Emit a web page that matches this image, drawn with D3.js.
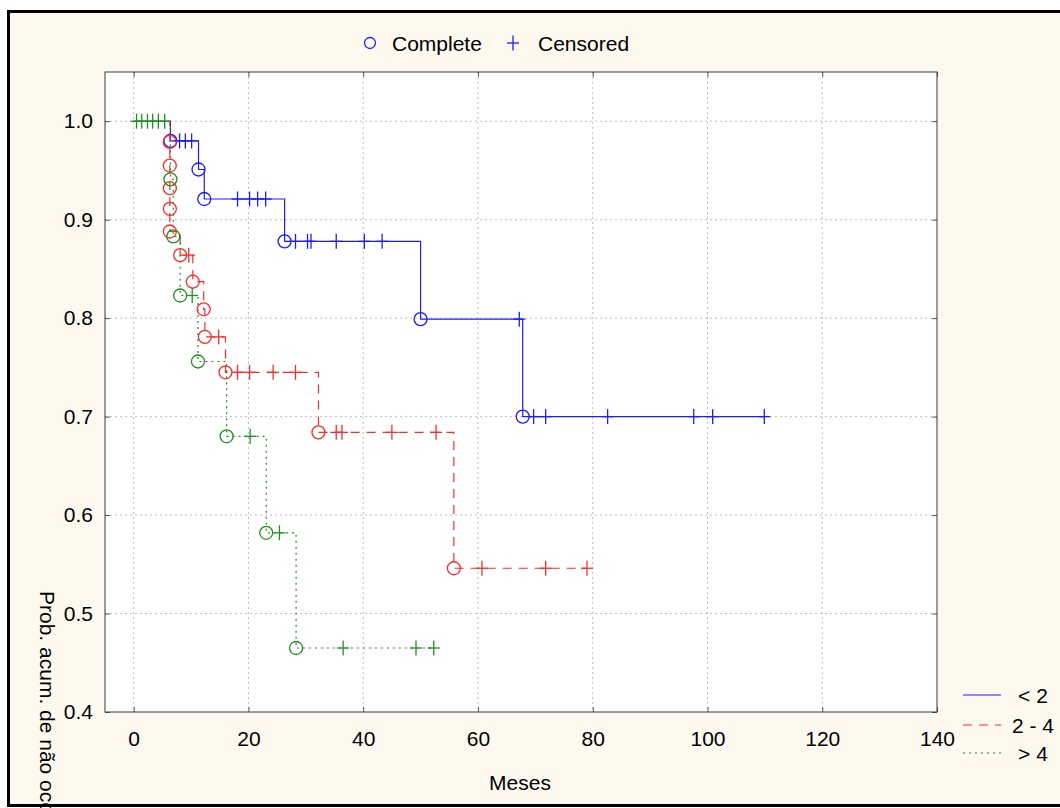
<!DOCTYPE html>
<html><head><meta charset="utf-8">
<script src="https://cdn.jsdelivr.net/npm/d3@7"></script>
<style>
html,body{margin:0;padding:0;background:#fff;}
text{font-family:"Liberation Sans",Arial,sans-serif;}
</style></head>
<body>
<svg id="c" width="1060" height="808"></svg>
<script>
// ---- data ----
const xTicks = [0, 20, 40, 60, 80, 100, 120, 140];
const yTicks = [0.4, 0.5, 0.6, 0.7, 0.8, 0.9, 1.0];
const groupNames = ["< 2", "2 - 4", "> 4"];

const blueEventT = [6.4, 11.3, 12.3, 26.3, 50.0, 67.8];
const blueEventS = [0.980, 0.951, 0.921, 0.878, 0.799, 0.700];
const blueCensT = [8.0, 9.0, 10.1, 18.1, 20.2, 21.6, 23.0, 28.2, 30.3, 30.9, 35.3, 40.2, 43.3, 67.2, 69.7, 71.8, 82.6, 97.6, 100.9, 109.9];

const redEventT = [6.3, 6.3, 6.3, 6.3, 6.3, 8.1, 10.3, 12.2, 12.4, 16.0, 32.2, 55.8];
const redEventS = [0.979, 0.955, 0.932, 0.911, 0.888, 0.864, 0.837, 0.809, 0.781, 0.745, 0.684, 0.546];
const redCensT = [9.6, 14.8, 18.1, 20.2, 24.3, 28.2, 35.3, 36.3, 45.0, 52.7, 60.7, 71.8, 79.0];

const greenEventT = [6.4, 6.9, 8.1, 11.2, 16.2, 23.1, 28.3];
const greenEventS = [0.941, 0.883, 0.823, 0.756, 0.680, 0.582, 0.465];
const greenCensT = [0.5, 1.4, 2.4, 3.3, 4.3, 5.4, 10.2, 20.3, 25.4, 36.5, 49.2, 52.3];

// ---- layout ----
const svg = d3.select("#c");
const L = 105, R = 937, T = 72, B = 712;
const x = d3.scaleLinear().domain([-5, 140]).range([L, R]);
const y = d3.scaleLinear().domain([0.4, 1.05]).range([B, T]);

const series = [
  {name: groupNames[0], color: "#1c1cff", dash: null, et: blueEventT, es: blueEventS, ct: blueCensT},
  {name: groupNames[1], color: "#ff2a2a", dash: "9,7", et: redEventT, es: redEventS, ct: redCensT},
  {name: groupNames[2], color: "#1f901f", dash: "2,4", et: greenEventT, es: greenEventS, ct: greenCensT}
];

// frame
svg.append("rect").attr("x", 8.5).attr("y", 11.5).attr("width", 1100).attr("height", 794)
  .attr("fill", "#fdf9ef").attr("stroke", "#000").attr("stroke-width", 3);

// plot area
svg.append("rect").attr("x", L).attr("y", T).attr("width", R - L).attr("height", B - T)
  .attr("fill", "#fff");

// gridlines
const grid = svg.append("g");
grid.selectAll("line.vx").data(xTicks.filter(d => d > -5 && d < 140)).join("line")
  .attr("x1", d => x(d)).attr("x2", d => x(d)).attr("y1", T).attr("y2", B)
  .attr("stroke", "#bdbdbd").attr("stroke-dasharray", "2,3").attr("stroke-width", 1);
grid.selectAll("line.hy").data(yTicks.filter(d => d > 0.4)).join("line")
  .attr("x1", L).attr("x2", R).attr("y1", d => y(d)).attr("y2", d => y(d))
  .attr("stroke", "#bdbdbd").attr("stroke-dasharray", "2,3").attr("stroke-width", 1);

// axes
const ax = svg.append("g").attr("transform", `translate(0,${B})`)
  .call(d3.axisBottom(x).tickValues(xTicks).tickSize(-5).tickPadding(19).tickFormat(d3.format("d")));
const ay = svg.append("g").attr("transform", `translate(${L},0)`)
  .call(d3.axisLeft(y).tickValues(yTicks).tickSize(-5).tickPadding(12).tickFormat(d3.format(".1f")));
const axT = svg.append("g").attr("transform", `translate(0,${T})`)
  .call(d3.axisTop(x).tickValues(xTicks).tickSize(-5).tickFormat(""));
const ayR = svg.append("g").attr("transform", `translate(${R},0)`)
  .call(d3.axisRight(y).tickValues(yTicks).tickSize(-5).tickFormat(""));
[ax, ay, axT, ayR].forEach(g => {
  g.select(".domain").remove();
  g.selectAll(".tick line").attr("stroke", "#555");
  g.selectAll("text").attr("font-size", 21).attr("fill", "#000")
    .attr("font-family", "'Liberation Sans', Arial, sans-serif");
});
svg.append("rect").attr("x", L).attr("y", T).attr("width", R - L).attr("height", B - T)
  .attr("fill", "none").attr("stroke", "#3a3a3a").attr("stroke-width", 1);

// curves
function survAt(s, t) {
  let v = 1;
  for (let i = 0; i < s.et.length; i++) if (s.et[i] <= t) v = s.es[i];
  return v;
}
const line = d3.line().x(d => x(d[0])).y(d => y(d[1])).curve(d3.curveStepAfter);
const plot = svg.append("g");
series.forEach(s => {
  const end = d3.max(s.ct.concat(s.et));
  const pts = [[0, 1]];
  s.et.forEach((t, i) => pts.push([t, s.es[i]]));
  pts.push([end, survAt(s, end)]);
  plot.append("path").attr("d", line(pts)).attr("fill", "none")
    .attr("stroke", s.color).attr("stroke-width", 1.2)
    .attr("stroke-dasharray", s.dash);
});
series.forEach(s => {
  const g = plot.append("g").attr("stroke", s.color).attr("stroke-width", 1.3).attr("fill", "none");
  g.selectAll("circle").data(s.et.map((t, i) => [t, s.es[i]])).join("circle")
    .attr("cx", d => x(d[0])).attr("cy", d => y(d[1])).attr("r", 6.5);
  const c = g.selectAll("g.cr").data(s.ct.map(t => [t, survAt(s, t)])).join("g")
    .attr("transform", d => `translate(${x(d[0])},${y(d[1])})`);
  c.append("line").attr("x1", -6).attr("x2", 6).attr("y1", 0).attr("y2", 0);
  c.append("line").attr("x1", 0).attr("x2", 0).attr("y1", -7.5).attr("y2", 7.5);
});

// top legend
const lg = svg.append("g");
lg.append("circle").attr("cx", 370).attr("cy", 43).attr("r", 5.5)
  .attr("fill", "none").attr("stroke", "#1c1cff").attr("stroke-width", 1.3);
lg.append("text").attr("x", 392).attr("y", 50.5).attr("font-size", 21).text("Complete");
lg.append("line").attr("x1", 507).attr("x2", 519).attr("y1", 43).attr("y2", 43).attr("stroke", "#1c1cff").attr("stroke-width", 1.3);
lg.append("line").attr("x1", 513).attr("x2", 513).attr("y1", 35.5).attr("y2", 50.5).attr("stroke", "#1c1cff").attr("stroke-width", 1.3);
lg.append("text").attr("x", 538).attr("y", 50.5).attr("font-size", 21).text("Censored");

// group legend
const gl = svg.append("g");
const legY = [695, 725, 753];
series.forEach((s, i) => {
  gl.append("line").attr("x1", 963).attr("x2", 1001).attr("y1", legY[i]).attr("y2", legY[i])
    .attr("stroke", s.color).attr("stroke-width", 1.2).attr("stroke-dasharray", s.dash);
  gl.append("text").attr("x", 1033).attr("y", legY[i] + 7.5).attr("text-anchor", "middle")
    .attr("font-size", 21).text(s.name);
});

// axis titles
svg.append("text").attr("x", 520).attr("y", 790).attr("text-anchor", "middle")
  .attr("font-size", 21).text("Meses");
svg.append("text").attr("transform", "translate(40,591) rotate(90)")
  .attr("font-size", 21).text("Prob. acum. de não ocorrência");
</script>
</body></html>
